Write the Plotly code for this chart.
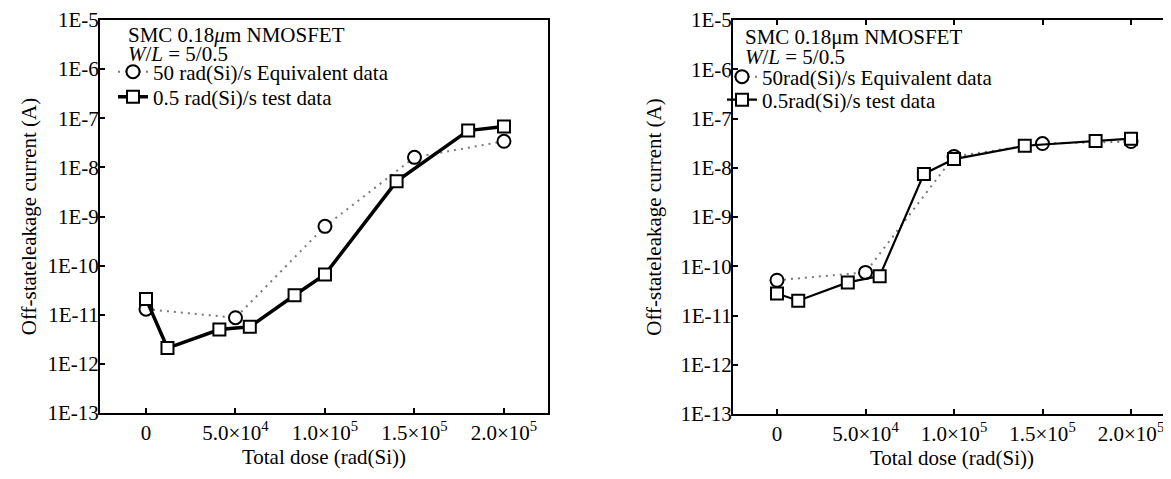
import plotly.graph_objects as go

# ---------------- data ----------------
left_circle_x = [0, 5e4, 1e5, 1.5e5, 2e5]
left_circle_y = [1.3e-11, 8.7e-12, 6.3e-10, 1.6e-8, 3.4e-8]
left_square_x = [0, 1.2e4, 4.1e4, 5.8e4, 8.3e4, 1e5, 1.4e5, 1.8e5, 2e5]
left_square_y = [2.1e-11, 2.1e-12, 5.0e-12, 5.7e-12, 2.5e-11, 6.6e-11, 5.2e-9, 5.6e-8, 6.8e-8]

right_circle_x = [0, 5e4, 1e5, 1.5e5, 2e5]
right_circle_y = [5.2e-11, 7.5e-11, 1.7e-8, 3.1e-8, 3.4e-8]
right_square_x = [0, 1.2e4, 4.0e4, 5.8e4, 8.3e4, 1e5, 1.4e5, 1.8e5, 2e5]
right_square_y = [2.8e-11, 2.0e-11, 4.7e-11, 6.3e-11, 7.5e-9, 1.5e-8, 2.8e-8, 3.5e-8, 3.9e-8]

x_tickvals = [0, 5e4, 1e5, 1.5e5, 2e5]
x_ticktext = ["0", "5.0×10<sup>4</sup>", "1.0×10<sup>5</sup>", "1.5×10<sup>5</sup>", "2.0×10<sup>5</sup>"]
y_tickvals = [1e-13, 1e-12, 1e-11, 1e-10, 1e-9, 1e-8, 1e-7, 1e-6, 1e-5]
y_ticktext = ["1E-13", "1E-12", "1E-11", "1E-10", "1E-9", "1E-8", "1E-7", "1E-6", "1E-5"]

left_names = ["50 rad(Si)/s Equivalent data", "0.5 rad(Si)/s test data"]
right_names = ["50rad(Si)/s Equivalent data", "0.5rad(Si)/s test data"]

FONT = "Liberation Serif"
FS = 21

fig = go.Figure()

def add_pair(cx, cy, sx, sy, names, xa, ya, legs, solid_w, mk_w):
    fig.add_trace(go.Scatter(
        x=cx, y=cy, name=names[0], xaxis=xa, yaxis=ya, legend=legs[0],
        mode="lines+markers", showlegend=True,
        line=dict(color="#7a7a7a", width=2, dash="2px,5px"),
        marker=dict(symbol="circle", size=13, color="white",
                    line=dict(color="black", width=mk_w)),
    ))
    fig.add_trace(go.Scatter(
        x=sx, y=sy, name=names[1], xaxis=xa, yaxis=ya, legend=legs[1],
        mode="lines+markers", showlegend=True,
        line=dict(color="black", width=solid_w),
        marker=dict(symbol="square", size=12, color="white",
                    line=dict(color="black", width=mk_w)),
    ))

add_pair(left_circle_x, left_circle_y, left_square_x, left_square_y,
         left_names, "x", "y", ["legend", "legend2"], 3.5, 2)
add_pair(right_circle_x, right_circle_y, right_square_x, right_square_y,
         right_names, "x2", "y2", ["legend3", "legend4"], 2.2, 2)

# page body has an 8px margin: figure drawn at (8, 8)
OFF = 8
W, H = 1171 - OFF, 479 - OFF
tfont = dict(family=FONT, size=FS, color="black")

def px(v):
    return (v - OFF) / W

def py(v):
    return 1 - (v - OFF) / H

def xaxis_cfg(domain, rng, mirror):
    return dict(domain=domain, range=rng, tickvals=x_tickvals, ticktext=x_ticktext,
                ticks="inside", ticklen=5, tickwidth=1.5, tickcolor="black",
                showline=True, linecolor="black", linewidth=2, mirror=mirror,
                showgrid=False, zeroline=False, automargin=False,
                tickfont=tfont, ticklabelstandoff=0,
                title=dict(text="Total dose (rad(Si))", standoff=3, font=tfont))

def yaxis_cfg(domain, mirror, anchor, standoff):
    return dict(domain=domain, type="log", range=[-13, -5], anchor=anchor,
                tickvals=y_tickvals, ticktext=y_ticktext,
                ticks="inside", ticklen=5, tickwidth=1.5, tickcolor="black",
                showline=True, linecolor="black", linewidth=2, mirror=mirror,
                showgrid=False, zeroline=False, automargin=False,
                tickfont=tfont, ticklabelstandoff=-5,
                title=dict(text="Off-stateleakage current (A)", standoff=standoff, font=tfont))

def leg(xp, yp):
    return dict(x=px(xp), y=py(yp), xanchor="left", yanchor="middle",
                bgcolor="rgba(0,0,0,0)", borderwidth=0, itemwidth=30,
                font=tfont, tracegroupgap=0, visible=True)

fig.update_layout(
    width=W, height=H,
    showlegend=True,
    margin=dict(l=0, r=0, t=0, b=0, autoexpand=False),
    paper_bgcolor="white", plot_bgcolor="white",
    font=tfont,
    xaxis=xaxis_cfg([px(100), px(548)], [-25700, 224600], True),
    yaxis=yaxis_cfg([py(413), py(20)], True, "x", 5),
    xaxis2=dict(xaxis_cfg([px(733), 1.0], [-24860, 222600], "allticks"), anchor="y2"),
    yaxis2=yaxis_cfg([py(414), py(20)], False, "x2", 13),
    legend=leg(113, 72),
    legend2=leg(113, 97),
    legend3=leg(722, 77),
    legend4=leg(722, 100),
    annotations=[
        dict(text="SMC 0.18<i>μ</i>m NMOSFET", xref="paper", yref="paper",
             x=px(126), y=py(35), xanchor="left", yanchor="middle",
             showarrow=False, font=tfont),
        dict(text="<i>W</i>/<i>L</i> = 5/0.5", xref="paper", yref="paper",
             x=px(126), y=py(54), xanchor="left", yanchor="middle",
             showarrow=False, font=tfont),
        dict(text="SMC 0.18μm NMOSFET", xref="paper", yref="paper",
             x=px(743), y=py(37), xanchor="left", yanchor="middle",
             showarrow=False, font=tfont),
        dict(text="<i>W</i>/<i>L</i> = 5/0.5", xref="paper", yref="paper",
             x=px(743), y=py(57), xanchor="left", yanchor="middle",
             showarrow=False, font=tfont),
    ],
)

fig.write_html("out.html")
